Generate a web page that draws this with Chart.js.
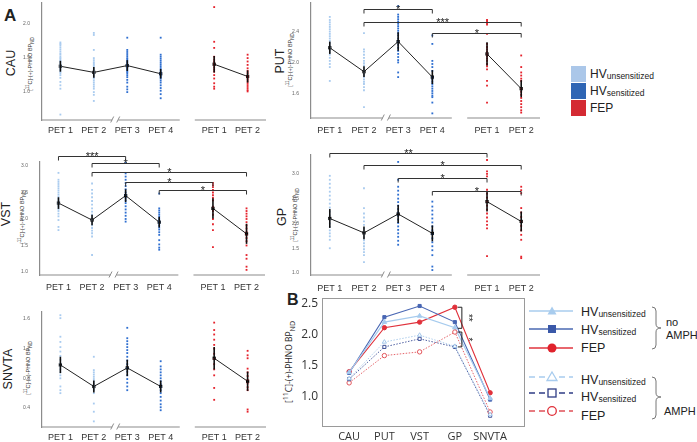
<!DOCTYPE html>
<html>
<head>
<meta charset="utf-8">
<script src="https://cdn.jsdelivr.net/npm/chart.js@4.4.0/dist/chart.umd.min.js"></script>
<style>
  body { margin: 0; background: #fff; }
  #fig { position: relative; width: 697px; height: 442px; overflow: hidden; font-family: "Liberation Sans", Arial, sans-serif; color: #222; }
  #fig canvas { position: absolute; }
  .t { position: absolute; white-space: nowrap; line-height: 1; }
  .rot { transform: translate(-50%, -50%) rotate(-90deg); }
  .region { font-size: 12.5px; }
  .ytl { font-size: 5.5px; color: #333; }
  .sb { font-size: 8.5px; position: relative; top: 1px; }
  .box { position: absolute; width: 15px; height: 16px; }
  svg { position: absolute; left: 0; top: 0; }
</style>
</head>
<body>
<div id="fig">
  <div class="t" style="left:4px;top:7px;font-size:17px;font-weight:bold">A</div>
  <div class="t" style="left:287px;top:292px;font-size:16px;font-weight:bold">B</div>

  <div class="t rot region" style="left:11px;top:63px">CAU</div>
  <div class="t rot region" style="left:280px;top:61px">PUT</div>
  <div class="t rot region" style="left:6px;top:214px">VST</div>
  <div class="t rot region" style="left:282px;top:217px">GP</div>
  <div class="t rot region" style="left:8px;top:369px">SNVTA</div>

  <div class="t rot ytl" style="left:31px;top:64px">[<sup>11</sup>C]-(+)-PHNO BP<sub>ND</sub></div>
  <div class="t rot ytl" style="left:291px;top:60px">[<sup>11</sup>C]-(+)-PHNO BP<sub>ND</sub></div>
  <div class="t rot ytl" style="left:23px;top:217px">[<sup>11</sup>C]-(+)-PHNO BP<sub>ND</sub></div>
  <div class="t rot ytl" style="left:296px;top:215px">[<sup>11</sup>C]-(+)-PHNO BP<sub>ND</sub></div>
  <div class="t rot ytl" style="left:29px;top:368px">[<sup>11</sup>C]-(+)-PHNO BP<sub>ND</sub></div>
  <div class="t rot" style="left:289px;top:362px;font-size:8.5px;font-family:'Open Sans',sans-serif">[<sup>11</sup>C]-(+)-PHNO BP<sub>ND</sub></div>

  <!-- legend A -->
  <div class="box" style="left:571px;top:66px;background:#abc7e9"></div>
  <div class="box" style="left:571px;top:83px;background:#2e65b4"></div>
  <div class="box" style="left:571px;top:100px;background:#d42a33"></div>
  <div class="t" style="left:590px;top:68px;font-size:12px">HV<span class="sb">unsensitized</span></div>
  <div class="t" style="left:590px;top:85px;font-size:12px">HV<span class="sb">sensitized</span></div>
  <div class="t" style="left:590px;top:102px;font-size:12px">FEP</div>

  <!-- legend B -->
  <div class="t" style="left:581px;top:306px;font-size:12.5px">HV<span class="sb">unsensitized</span></div>
  <div class="t" style="left:581px;top:324px;font-size:12.5px">HV<span class="sb">sensitized</span></div>
  <div class="t" style="left:581px;top:342px;font-size:12.5px">FEP</div>
  <div class="t" style="left:581px;top:374px;font-size:12.5px">HV<span class="sb">unsensitized</span></div>
  <div class="t" style="left:581px;top:391px;font-size:12.5px">HV<span class="sb">sensitized</span></div>
  <div class="t" style="left:581px;top:410px;font-size:12.5px">FEP</div>
  <div class="t" style="left:666px;top:317px;font-size:11px">no</div>
  <div class="t" style="left:666px;top:330px;font-size:11px">AMPH</div>
  <div class="t" style="left:664px;top:406px;font-size:11px">AMPH</div>

  <svg width="697" height="442">
    <line x1="529" y1="311" x2="573" y2="311" stroke="#a8ccee" stroke-width="1.3"/>
    <polygon points="552,306.5 556.5,314.5 547.5,314.5" fill="#a8ccee"/>
    <line x1="529" y1="329" x2="573" y2="329" stroke="#4a68b2" stroke-width="1.3"/>
    <rect x="548" y="325" width="8" height="8" fill="#3a58a8"/>
    <line x1="529" y1="348" x2="573" y2="348" stroke="#e0343e" stroke-width="1.3"/>
    <circle cx="552" cy="348" r="4.5" fill="#e0222c"/>
    <line x1="529" y1="377" x2="573" y2="377" stroke="#a8ccee" stroke-width="1.3" stroke-dasharray="6 4"/>
    <polygon points="552,372 557,380.5 547,380.5" fill="#fff" stroke="#a8ccee" stroke-width="1.3"/>
    <line x1="529" y1="393" x2="573" y2="393" stroke="#2f3d85" stroke-width="1.3" stroke-dasharray="6 4"/>
    <rect x="548" y="389" width="8" height="8" fill="#fff" stroke="#2f3d85" stroke-width="1.3"/>
    <line x1="529" y1="411" x2="573" y2="411" stroke="#e05058" stroke-width="1.3" stroke-dasharray="6 4"/>
    <circle cx="552" cy="411" r="4.3" fill="#fff" stroke="#e0303a" stroke-width="1.3"/>
    <path d="M652,307 Q656,307 656,311 L656,324 Q656,328 661,328 Q656,328 656,332 L656,345 Q656,349 652,349" fill="none" stroke="#777"/>
    <path d="M652,377 Q656,377 656,381 L656,393 Q656,397 661,397 Q656,397 656,401 L656,415 Q656,419 652,419" fill="none" stroke="#777"/>
  </svg>
</div>

<script>
const petLabels = ['PET 1', 'PET 2', 'PET 3', 'PET 4', 'PET 1', 'PET 2'];
const petPos = [1, 2, 3, 4, 5.6, 6.6];

// CAU
const cauPet1 = [1.73, 1.71, 1.69, 1.66, 1.63, 1.60, 1.57, 1.55, 1.52, 1.50, 1.48, 1.46, 1.44, 1.42, 1.40, 1.38, 1.36, 1.34, 1.32, 1.30, 1.28, 1.25, 1.21, 1.15, 1.10, 1.05, 0.67];
const cauPet2 = [1.87, 1.84, 1.62, 1.50, 1.47, 1.44, 1.42, 1.40, 1.38, 1.35, 1.33, 1.31, 1.29, 1.27, 1.25, 1.22, 1.20, 1.17, 1.14, 1.11, 1.08, 1.05, 1.00, 0.96, 0.87];
const cauPet3 = [1.80, 1.62, 1.59, 1.56, 1.53, 1.50, 1.48, 1.46, 1.44, 1.42, 1.40, 1.38, 1.36, 1.34, 1.32, 1.30, 1.28, 1.25, 1.22, 1.18, 1.14, 1.08, 1.04, 1.00];
const cauPet4 = [1.80, 1.55, 1.52, 1.49, 1.46, 1.43, 1.40, 1.37, 1.34, 1.31, 1.28, 1.26, 1.24, 1.22, 1.20, 1.17, 1.14, 1.10, 1.06, 1.02, 0.97, 0.91];
const cauFep1 = [2.25, 1.74, 1.65, 1.52, 1.48, 1.45, 1.42, 1.39, 1.36, 1.33, 1.30, 1.25, 1.20, 1.13, 1.08, 1.05];
const cauFep2 = [1.55, 1.50, 1.45, 1.40, 1.35, 1.31, 1.28, 1.24, 1.21, 1.18, 1.15, 1.12, 1.09, 1.06, 1.03, 1.01];
const cauMeans = [1.38, 1.29, 1.39, 1.27, 1.41, 1.23];
const cauCI = [0.08, 0.08, 0.08, 0.07, 0.12, 0.09];

// PUT
const putPet1 = [2.59, 2.55, 2.52, 2.49, 2.46, 2.43, 2.40, 2.37, 2.34, 2.31, 2.28, 2.25, 2.22, 2.19, 2.16, 2.13, 2.10, 2.06, 2.02, 1.98, 1.94, 1.76];
const putPet2 = [2.38, 2.17, 2.14, 2.10, 2.06, 2.02, 1.99, 1.96, 1.93, 1.90, 1.87, 1.84, 1.81, 1.78, 1.75, 1.72, 1.68, 1.64, 1.42];
const putPet3 = [2.73, 2.62, 2.59, 2.56, 2.53, 2.50, 2.47, 2.44, 2.41, 2.38, 2.35, 2.31, 2.27, 2.23, 2.19, 2.15, 2.11, 2.07, 2.03, 2.00, 1.87, 1.81];
const putPet4 = [2.35, 2.24, 2.02, 1.98, 1.94, 1.89, 1.81, 1.78, 1.75, 1.72, 1.69, 1.66, 1.63, 1.60, 1.57, 1.55, 1.48, 1.34];
const putFep1 = [2.55, 2.53, 2.51, 2.49, 2.37, 2.24, 2.20, 2.17, 2.14, 2.11, 2.08, 2.05, 2.02, 1.98, 1.95, 1.91, 1.76, 1.70, 1.48];
const putFep2 = [2.09, 1.94, 1.87, 1.83, 1.79, 1.76, 1.66, 1.62, 1.58, 1.54, 1.50, 1.46, 1.42, 1.38, 1.35];
const putMeans = [2.19, 1.88, 2.27, 1.81, 2.11, 1.66];
const putCI = [0.08, 0.07, 0.12, 0.09, 0.15, 0.11];
const putSig = [[1, 3, 2.69, '*'], [1, 5, 2.52, '***'], [3, 5, 2.38, '*']];

// VST
const vstPet1 = [2.87, 2.74, 2.70, 2.66, 2.62, 2.58, 2.54, 2.50, 2.46, 2.42, 2.38, 2.34, 2.30, 2.26, 2.23, 2.19, 2.15, 2.10, 2.05, 1.98, 1.85, 1.79];
const vstPet2 = [2.67, 2.55, 2.48, 2.41, 2.34, 2.27, 2.20, 2.14, 2.08, 2.03, 1.98, 1.93, 1.88, 1.83, 1.78, 1.73, 1.67, 1.32];
const vstPet3 = [3.06, 2.86, 2.80, 2.74, 2.68, 2.62, 2.56, 2.50, 2.45, 2.40, 2.35, 2.30, 2.24, 2.18, 2.12, 2.06, 2.00, 1.95];
const vstPet4 = [2.48, 2.20, 2.16, 2.12, 2.08, 2.04, 2.00, 1.96, 1.92, 1.88, 1.84, 1.80, 1.75, 1.70, 1.60, 1.52, 1.46, 1.42];
const vstFep1 = [2.68, 2.64, 2.60, 2.55, 2.50, 2.45, 2.40, 2.35, 2.23, 2.15, 2.08, 2.00, 1.90, 1.79, 1.47];
const vstFep2 = [2.20, 2.15, 2.10, 2.05, 2.00, 1.94, 1.88, 1.82, 1.76, 1.70, 1.64, 1.58, 1.50, 1.32, 1.25, 1.10, 1.04];
const vstMeans = [2.30, 1.98, 2.44, 1.94, 2.20, 1.72];
const vstCI = [0.11, 0.10, 0.12, 0.10, 0.19, 0.19];
const vstSig = [[0, 2, 3.19, '***'], [1, 3, 3.06, '*'], [1, 5, 2.89, '*'], [2, 4, 2.70, '*'], [3, 5, 2.55, '*']];

// GP
const gpPet1 = [2.96, 2.88, 2.80, 2.72, 2.64, 2.56, 2.48, 2.40, 2.32, 2.24, 2.16, 2.08, 2.00, 1.93, 1.86, 1.80, 1.74, 1.67, 1.50];
const gpPet2 = [2.71, 2.31, 2.20, 2.12, 2.04, 1.97, 1.90, 1.84, 1.78, 1.72, 1.66, 1.60, 1.54, 1.48, 1.42, 1.36, 1.22];
const gpPet3 = [3.24, 2.88, 2.74, 2.66, 2.58, 2.50, 2.43, 2.36, 2.29, 2.22, 2.15, 2.08, 2.01, 1.94, 1.87, 1.80, 1.73, 1.65, 1.57];
const gpPet4 = [2.44, 2.34, 2.26, 2.18, 2.10, 2.02, 1.94, 1.86, 1.78, 1.70, 1.62, 1.54, 1.46, 1.36, 1.13, 1.06];
const gpFep1 = [3.28, 3.05, 3.00, 2.95, 2.68, 2.60, 2.52, 2.44, 2.36, 2.28, 2.20, 2.12, 2.04, 1.97, 1.90, 1.34];
const gpFep2 = [2.74, 2.67, 2.61, 2.31, 2.22, 2.13, 2.04, 1.95, 1.86, 1.77, 1.67, 1.33, 1.30];
const gpMeans = [2.10, 1.81, 2.19, 1.80, 2.44, 2.04];
const gpCI = [0.19, 0.13, 0.18, 0.16, 0.20, 0.20];
const gpSig = [[0, 4, 3.43, '**'], [1, 5, 3.17, '*'], [2, 4, 2.91, '*'], [3, 5, 2.66, '*']];

// SNVTA
const snPet1 = [1.65, 1.61, 1.36, 1.29, 1.22, 1.16, 1.10, 1.05, 1.00, 0.96, 0.92, 0.88, 0.84, 0.80, 0.69, 0.64, 0.60];
const snPet2 = [1.09, 0.91, 0.88, 0.85, 0.82, 0.79, 0.76, 0.73, 0.70, 0.67, 0.64, 0.60, 0.46, 0.35, 0.22];
const snPet3 = [1.48, 1.34, 1.30, 1.26, 1.22, 1.18, 1.14, 1.09, 1.04, 0.99, 0.94, 0.89, 0.84, 0.79, 0.74, 0.69, 0.64];
const snPet4 = [1.03, 0.96, 0.92, 0.88, 0.84, 0.80, 0.76, 0.72, 0.68, 0.64, 0.60, 0.55, 0.50, 0.45, 0.41, 0.37];
const snFep1 = [1.55, 1.45, 1.39, 1.32, 1.25, 1.20, 1.13, 1.06, 0.99, 0.92, 0.84, 0.67, 0.51];
const snFep2 = [1.17, 1.11, 1.07, 0.93, 0.88, 0.83, 0.78, 0.73, 0.68, 0.64, 0.38, 0.35];
const snMeans = [0.98, 0.69, 0.94, 0.69, 1.07, 0.76];
const snCI = [0.11, 0.08, 0.11, 0.08, 0.15, 0.13];

// panel B
const bRegions = ['CAU', 'PUT', 'VST', 'GP', 'SNVTA'];
const hvUnsNoAmph = [1.39, 2.20, 2.30, 2.11, 0.97];
const hvSenNoAmph = [1.38, 2.28, 2.46, 2.20, 0.95];
const fepNoAmph = [1.40, 2.11, 2.20, 2.44, 1.06];
const hvUnsAmph = [1.29, 1.88, 1.99, 1.81, 0.71];
const hvSenAmph = [1.28, 1.80, 1.93, 1.80, 0.69];
const fepAmph = [1.22, 1.66, 1.72, 2.04, 0.75];
const bSig = [[3, 2.44, 2.10, '**'], [3, 2.04, 1.80, '*']];

const FONT = "'Liberation Sans', Arial, sans-serif";
const LB = '#a9cbef', BL = '#2f6fd0', RD = '#e5222c';
const dotColors = [LB, LB, BL, BL, RD, RD];

function mkCanvas(left, top, w, h) {
  const c = document.createElement('canvas');
  c.width = w; c.height = h;
  c.style.left = left + 'px'; c.style.top = top + 'px';
  c.style.width = w + 'px'; c.style.height = h + 'px';
  document.getElementById('fig').appendChild(c);
  return c;
}

// fixed axis boxes, no extra label padding pushed into the chart area
const fixW = w => s => { s.width = w; s.paddingTop = 0; s.paddingBottom = 0; s.paddingLeft = 0; s.paddingRight = 0; };
const fixH = h => s => { s.height = h; s.paddingTop = 0; s.paddingBottom = 0; s.paddingLeft = 0; s.paddingRight = 0; };

function makePanel(p) {
  const yW = 30, xH = 24, padR = 6;
  const canvas = mkCanvas(p.L - yW, p.T - p.padTop, yW + (p.R - p.L) + padR, p.padTop + (p.B - p.T) + xH);

  const datasets = p.groups.map((vals, g) => ({
    data: vals.map(v => ({ x: petPos[g], y: v })),
    pointStyle: 'rect', pointRadius: 1.3, backgroundColor: dotColors[g], borderWidth: 0
  }));
  const meanLine = (idx) => ({
    data: idx.map(i => ({ x: petPos[i], y: p.means[i] })),
    showLine: true, borderColor: '#222', borderWidth: 1,
    pointStyle: 'rect', pointRadius: 2.3, backgroundColor: '#000', pointBorderWidth: 0
  });
  datasets.push(meanLine([0, 1, 2, 3]));
  datasets.push(meanLine([4, 5]));

  const axisBreak = {
    id: 'axisBreak',
    beforeDatasetsDraw(chart) {
      const { ctx, scales: { x }, chartArea } = chart;
      const y = chartArea.bottom;
      ctx.save();
      ctx.strokeStyle = '#8c8c8c'; ctx.lineWidth = 1.2;
      [[0.45, 2.55], [2.73, 4.57], [5.02, 7.15]].forEach(([a, b]) => {
        ctx.beginPath(); ctx.moveTo(x.getPixelForValue(a), y); ctx.lineTo(x.getPixelForValue(b), y); ctx.stroke();
      });
      ctx.lineWidth = 1;
      [2.55, 2.73].forEach(v => {
        const px = x.getPixelForValue(v);
        ctx.beginPath(); ctx.moveTo(px - 1.5, y + 2.5); ctx.lineTo(px + 1.5, y - 3.5); ctx.stroke();
      });
      ctx.restore();
    }
  };
  const errBars = {
    id: 'errBars',
    afterDatasetsDraw(chart) {
      const { ctx, scales: { x, y } } = chart;
      ctx.save();
      ctx.strokeStyle = '#111'; ctx.lineWidth = 1.6;
      p.means.forEach((m, i) => {
        const px = x.getPixelForValue(petPos[i]);
        ctx.beginPath();
        ctx.moveTo(px, y.getPixelForValue(m - p.ci[i]));
        ctx.lineTo(px, y.getPixelForValue(m + p.ci[i]));
        ctx.stroke();
      });
      ctx.restore();
    }
  };
  const sigBars = {
    id: 'sigBars',
    afterDraw(chart) {
      const { ctx, scales: { x, y } } = chart;
      ctx.save();
      ctx.strokeStyle = '#333'; ctx.fillStyle = '#222'; ctx.lineWidth = 1;
      ctx.font = '11px ' + FONT; ctx.textAlign = 'center'; ctx.textBaseline = 'alphabetic';
      (p.sig || []).forEach(([a, b, v, lab]) => {
        const x1 = x.getPixelForValue(petPos[a]), x2 = x.getPixelForValue(petPos[b]);
        const py = Math.round(y.getPixelForValue(v)) + 0.5;
        ctx.beginPath();
        ctx.moveTo(x1, py + 4); ctx.lineTo(x1, py); ctx.lineTo(x2, py); ctx.lineTo(x2, py + 4);
        ctx.stroke();
        ctx.fillText(lab, (x1 + x2) / 2, py + 3.5);
      });
      ctx.restore();
    }
  };

  new Chart(canvas, {
    type: 'scatter',
    data: { datasets },
    plugins: [axisBreak, errBars, sigBars],
    options: {
      responsive: false, animation: false, devicePixelRatio: 1, events: [],
      layout: { padding: { left: 0, right: padR, top: p.padTop, bottom: 0 }, autoPadding: false },
      plugins: { legend: { display: false }, tooltip: { enabled: false } },
      scales: {
        x: {
          type: 'linear', min: 0.45, max: 7.15,
          afterFit: fixH(xH),
          afterBuildTicks: s => { s.ticks = petPos.map(v => ({ value: v })); },
          grid: { display: false, drawTicks: false }, border: { display: false },
          ticks: { autoSkip: false, maxRotation: 0, padding: p.xPad, color: '#333', font: { size: 9, family: FONT },
                   callback: (v, i) => petLabels[i] }
        },
        y: {
          type: 'linear', min: p.yMin, max: p.yMax,
          afterFit: fixW(yW),
          grid: { display: false, drawTicks: false },
          border: { display: true, color: '#8c8c8c', width: 1.2 },
          ticks: { stepSize: p.yStep, includeBounds: false, padding: 12, color: '#666', font: { size: 5, family: FONT },
                   callback: v => v.toFixed(1) }
        }
      }
    }
  });
}

makePanel({ L: 42, T: 3, R: 266, B: 120, padTop: 3, xPad: 5, yMin: 0.59, yMax: 2.31, yStep: 0.5,
  groups: [cauPet1, cauPet2, cauPet3, cauPet4, cauFep1, cauFep2], means: cauMeans, ci: cauCI });
makePanel({ L: 311, T: 3, R: 540, B: 118, padTop: 3, xPad: 7.5, yMin: 1.28, yMax: 2.77, yStep: 0.4,
  groups: [putPet1, putPet2, putPet3, putPet4, putFep1, putFep2], means: putMeans, ci: putCI, sig: putSig });
makePanel({ L: 40, T: 162, R: 265, B: 275, padTop: 18, xPad: 7.5, yMin: 0.943, yMax: 3.075, yStep: 0.5,
  groups: [vstPet1, vstPet2, vstPet3, vstPet4, vstFep1, vstFep2], means: vstMeans, ci: vstCI, sig: vstSig });
makePanel({ L: 311, T: 155, R: 540, B: 275, padTop: 14, xPad: 8.5, yMin: 0.96, yMax: 3.38, yStep: 0.5,
  groups: [gpPet1, gpPet2, gpPet3, gpPet4, gpFep1, gpFep2], means: gpMeans, ci: gpCI, sig: gpSig });
makePanel({ L: 42, T: 312, R: 266, B: 427, padTop: 3, xPad: 5.5, yMin: 0.144, yMax: 1.693, yStep: 0.4,
  groups: [snPet1, snPet2, snPet3, snPet4, snFep1, snFep2], means: snMeans, ci: snCI });

// panel B
(function () {
  const L = 322, T = 298, R = 525, B = 427, yW = 30, xH = 15, padTop = 8, padR = 2;
  const canvas = mkCanvas(L - yW, T - padTop, yW + (R - L) + padR, padTop + (B - T) + xH);
  const series = (vals, color, style, dashed, open, r) => ({
    data: vals.map((v, i) => ({ x: i, y: v })),
    showLine: true, borderColor: color, borderWidth: dashed ? 0.9 : 1.1,
    borderDash: dashed ? [1.5, 1.5] : [],
    pointStyle: style, pointRadius: r, pointBorderWidth: 1,
    pointBorderColor: color, pointBackgroundColor: open ? '#fff' : color
  });
  const frame = {
    id: 'frame',
    beforeDatasetsDraw(chart) {
      const { ctx, chartArea: a } = chart;
      ctx.save(); ctx.strokeStyle = '#9a9a9a'; ctx.lineWidth = 1;
      ctx.strokeRect(a.left + 0.5, a.top + 0.5, a.right - a.left - 1, a.bottom - a.top - 1);
      ctx.restore();
    },
    afterDatasetsDraw(chart) {
      const { ctx, scales: { x, y } } = chart;
      ctx.save(); ctx.strokeStyle = '#222'; ctx.fillStyle = '#222'; ctx.lineWidth = 1;
      bSig.forEach(([i, hi, lo, lab]) => {
        const px = x.getPixelForValue(i) + 7;
        const y1 = y.getPixelForValue(hi), y2 = y.getPixelForValue(lo);
        ctx.beginPath();
        ctx.moveTo(px - 4, y1); ctx.lineTo(px, y1); ctx.lineTo(px, y2); ctx.lineTo(px - 4, y2);
        ctx.stroke();
        ctx.save();
        ctx.translate(px + 3, (y1 + y2) / 2);
        ctx.rotate(Math.PI / 2);
        ctx.font = '10px ' + FONT; ctx.textAlign = 'center'; ctx.textBaseline = 'alphabetic';
        ctx.fillText(lab, 0, 0);
        ctx.restore();
      });
      ctx.restore();
    }
  };
  new Chart(canvas, {
    type: 'scatter',
    data: {
      datasets: [
        series(hvUnsAmph, '#a6c8ea', 'triangle', true, true, 2.4),
        series(hvSenAmph, '#3d4f97', 'rect', true, true, 2.2),
        series(fepAmph, '#e2555b', 'circle', true, true, 2.2),
        series(hvUnsNoAmph, '#a6cbee', 'triangle', false, false, 2.6),
        series(hvSenNoAmph, '#4866b3', 'rect', false, false, 2.2),
        series(fepNoAmph, '#e0313b', 'circle', false, false, 2.2)
      ]
    },
    plugins: [frame],
    options: {
      responsive: false, animation: false, devicePixelRatio: 1, events: [],
      layout: { padding: { left: 0, right: padR, top: padTop, bottom: 0 }, autoPadding: false },
      plugins: { legend: { display: false }, tooltip: { enabled: false } },
      scales: {
        x: {
          type: 'linear', min: -0.77, max: 4.99,
          afterFit: fixH(xH),
          afterBuildTicks: s => { s.ticks = bRegions.map((_, i) => ({ value: i })); },
          grid: { display: false, drawTicks: false }, border: { display: false },
          ticks: { autoSkip: false, maxRotation: 0, padding: 3, color: '#333',
                   font: { size: 11, family: "'Open Sans', sans-serif" }, callback: (v, i) => bRegions[i] }
        },
        y: {
          type: 'linear', min: 0.508, max: 2.589,
          afterFit: fixW(yW),
          grid: { display: false, drawTicks: false }, border: { display: false },
          ticks: { stepSize: 0.5, includeBounds: false, padding: 4, color: '#333',
                   font: { size: 12, family: "'Open Sans', sans-serif" }, callback: v => v.toFixed(1) }
        }
      }
    }
  });
})();
</script>
</body>
</html>
